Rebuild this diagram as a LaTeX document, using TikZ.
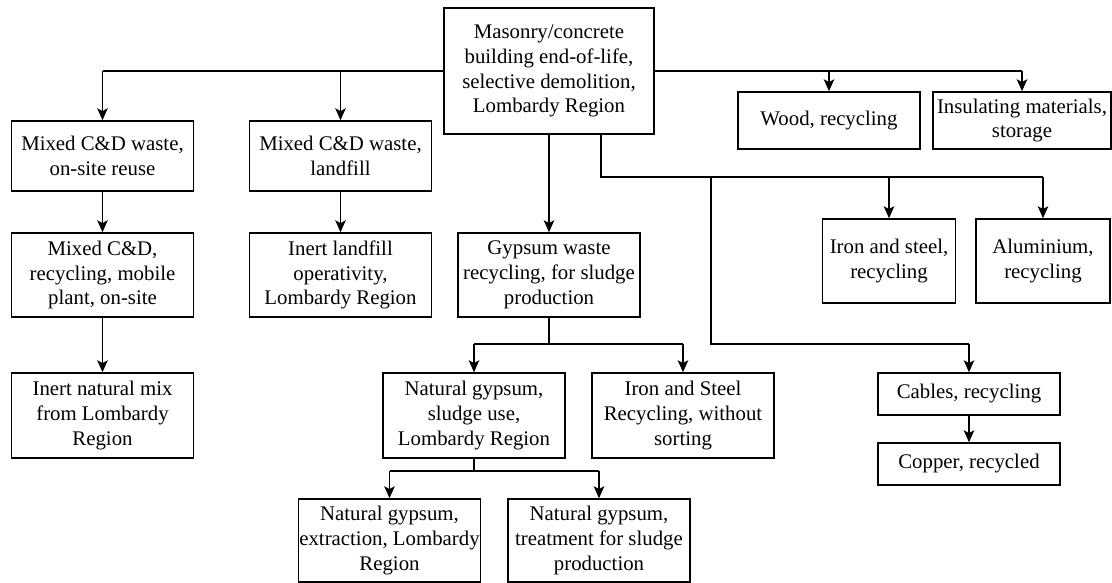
\documentclass[tikz,border=0pt]{standalone}
\usepackage{fontspec}
\setmainfont{Liberation Serif}
\usetikzlibrary{arrows.meta}

\begin{document}
\begin{tikzpicture}[x=0.025cm,y=-0.025cm]

  \tikzstyle{box}=[draw,line width=1.1pt,inner sep=0pt,align=center,
    minimum width=4.55cm,font=\fontsize{14.8}{17.7}\selectfont]
  \tikzstyle{link}=[line width=0.9pt]
  \tikzstyle{arr}=[line width=0.9pt,-{Stealth[length=8.5pt,width=7.5pt,inset=2pt]}]

  \useasboundingbox (0,0) rectangle (1112,583);

  % top
  \node[box,minimum width=5.25cm,minimum height=3.15cm] (root) at (549,71)
    {Masonry/concrete\\building end-of-life,\\selective demolition,\\Lombardy Region};

  % left branches
  \node[box,minimum height=1.75cm] (a1) at (102.5,156)
    {Mixed C\&D waste,\\on-site reuse};
  \node[box,minimum height=2.1cm] (a2) at (102.5,275)
    {Mixed C\&D,\\recycling, mobile\\plant, on-site};
  \node[box,minimum height=2.125cm] (a3) at (102.5,415.5)
    {Inert natural mix\\from Lombardy\\Region};

  \node[box,minimum height=1.75cm] (b1) at (340.5,156)
    {Mixed C\&D waste,\\landfill};
  \node[box,minimum height=2.1cm] (b2) at (340.5,275)
    {Inert landfill\\operativity,\\Lombardy Region};

  % gypsum
  \node[box,minimum height=2.1cm] (g) at (549,275)
    {Gypsum waste\\recycling, for sludge\\production};
  \node[box,minimum height=2.125cm] (ng) at (474,415.5)
    {Natural gypsum,\\sludge use,\\Lombardy Region};
  \node[box,minimum height=2.125cm] (isr) at (683,415.5)
    {Iron and Steel\\Recycling, without\\sorting};
  \node[box,minimum height=2.075cm] (nge) at (389.5,540.5)
    {Natural gypsum,\\extraction, Lombardy\\Region};
  \node[box,minimum height=2.075cm] (ngt) at (599,540.5)
    {Natural gypsum,\\treatment for sludge\\production};

  % right branches
  \node[box,minimum height=1.425cm] (wood) at (829,120.5)
    {Wood, recycling};
  \node[box,minimum width=4.45cm,minimum height=1.425cm] (ins) at (1022,120.5)
    {Insulating materials,\\storage};
  \node[box,minimum width=3.325cm,minimum height=2.1cm] (iron) at (889,261)
    {Iron and steel,\\recycling};
  \node[box,minimum width=3.35cm,minimum height=2.1cm] (alu) at (1043,261)
    {Aluminium,\\recycling};
  \node[box,minimum height=1.05cm] (cab) at (969,394)
    {Cables, recycling};
  \node[box,minimum height=1.05cm] (cop) at (969,464)
    {Copper, recycled};

  \coordinate (rb) at (601,177);
  \coordinate (rc) at (711,177);
  \coordinate (rd) at (711,344);
  \coordinate (gb) at (549,344);
  \coordinate (nb) at (474,471);

  \draw[link] (root.west) -- (a1.north |- root.west);
  \draw[arr] (a1.north |- root.west) -- (a1.north);
  \draw[arr] (b1.north |- root.west) -- (b1.north);
  \draw[link] (root.east) -- (ins.north |- root.east);
  \draw[arr] (ins.north |- root.east) -- (ins.north);
  \draw[arr] (wood.north |- root.east) -- (wood.north);

  \draw[arr] (a1) -- (a2);
  \draw[arr] (a2) -- (a3);
  \draw[arr] (b1) -- (b2);
  \draw[arr] (root) -- (g);
  \draw[arr] (cab) -- (cop);

  \draw[link] (rb |- root.south) -- (rb) -- (alu.north |- rb);
  \draw[arr] (alu.north |- rb) -- (alu.north);
  \draw[arr] (iron.north |- rb) -- (iron.north);
  \draw[link] (rc) -- (rd) -- (cab.north |- rd);
  \draw[arr] (cab.north |- rd) -- (cab.north);

  \draw[link] (g.south) -- (gb);
  \draw[link] (ng.north |- gb) -- (isr.north |- gb);
  \draw[arr] (ng.north |- gb) -- (ng.north);
  \draw[arr] (isr.north |- gb) -- (isr.north);

  \draw[link] (ng.south) -- (nb);
  \draw[link] (nge.north |- nb) -- (ngt.north |- nb);
  \draw[arr] (nge.north |- nb) -- (nge.north);
  \draw[arr] (ngt.north |- nb) -- (ngt.north);

\end{tikzpicture}
\end{document}
